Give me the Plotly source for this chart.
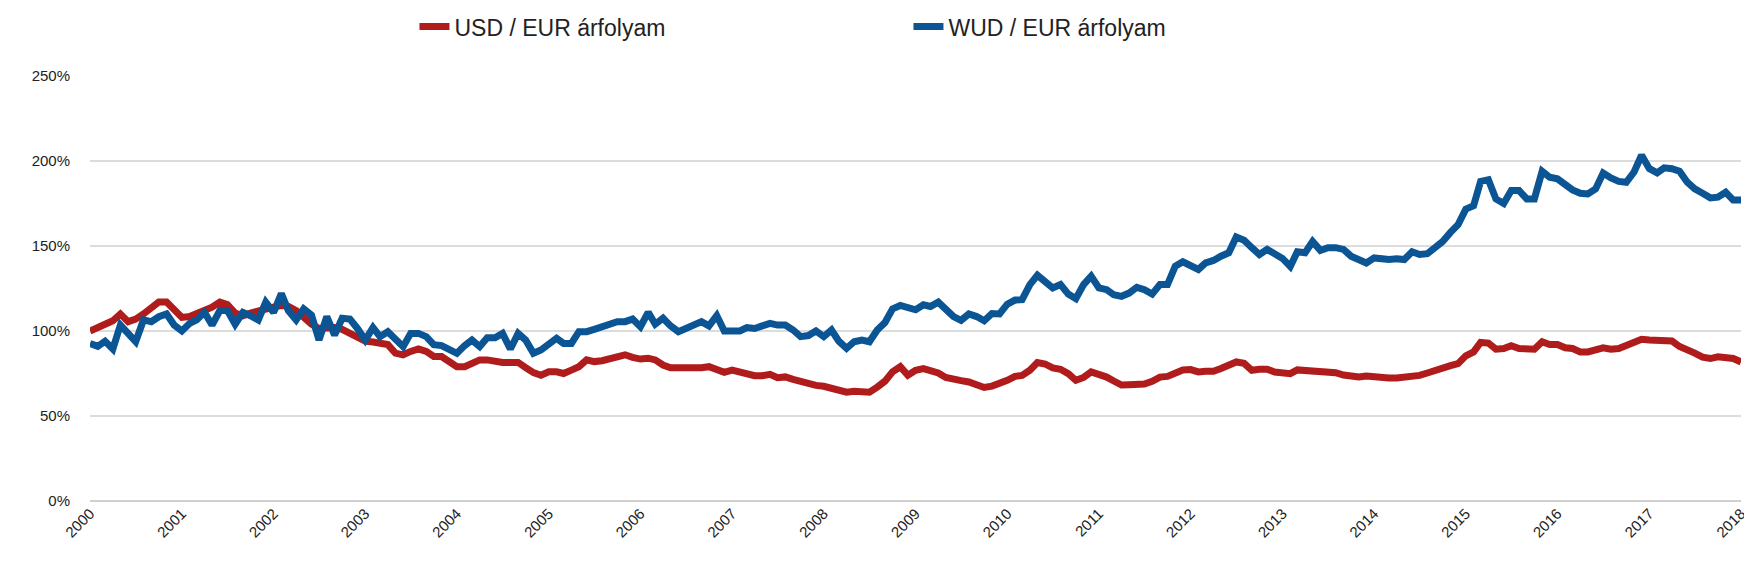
import pandas as pd
import plotly.graph_objects as go

start_month = "2000-01-01"
n_months = 217

usd_eur = [
    100, 102.5, 104, 106, 110, 105.5, 107, 110, 114, 117, 117, 112,
    108, 108.5, 110, 112, 114, 117, 115.5, 110.5, 109, 110.5, 112, 113,
    114, 115, 114.5, 112, 108, 104, 101.5, 102, 102, 101, 99, 97,
    94, 93.5, 93, 92, 87, 86, 88, 89.5, 88, 85, 85, 81.5,
    79, 79, 81, 83, 83, 82, 81.5, 81.5, 81.5, 78.5, 75.5, 74,
    76, 76, 75, 77, 79, 83, 82, 82.5, 83.5, 85, 86, 84.5,
    83.5, 84, 83, 80, 78.4, 78.4, 78.4, 77.6, 78.4, 79, 77.5, 75.7,
    77, 76, 74.5, 73.7, 73.7, 74.5, 72.5, 73, 71.5, 70, 68.5, 68,
    67.5, 66, 64.5, 64, 64.5, 64.5, 64, 67, 70.5, 76, 79, 74,
    76.9, 77.9, 76.7, 75.3, 72.7, 71.3, 70.8, 70, 68.6, 66.8, 67.6, 69,
    71, 73.3, 73.9, 76.9, 81.4, 80.6, 78.3, 77.5, 74.9, 71, 72.7, 75.9,
    74.7, 72.9, 70.6, 68.2, 68.4, 68.4, 68.8, 70.4, 72.9, 73.3, 75.3, 77.1,
    77.3, 75.9, 76.3, 76.3, 77.9, 80.2, 81.8, 81, 76.9, 77.5, 77.5, 75.9,
    74.9, 74.9, 77.1, 76.9, 76.9, 75.9, 75.5, 75.5, 74.1, 73.5, 72.9, 73.5,
    72.9, 73.3, 72.3, 72.3, 72.7, 73.5, 73.9, 75.3, 77.1, 78.5, 79.6, 80.8,
    85.4, 87.7, 93.3, 92.9, 89.3, 89.7, 91.3, 89.7, 89.3, 89.3, 93.7, 92.1,
    92.1, 90.1, 89.7, 87.7, 87.7, 88.5, 90.1, 89.3, 89.7, 91.5, 93.1, 95.1,
    94.7, 94.5, 94.5, 94.1, 90.9, 89.3, 87, 84.6, 83.8, 84.8, 84.8, 83.8,
    81.8,
]

wud_eur = [
    92.7, 91, 94, 89.4, 103.5, 98.6, 93.7, 106.5, 105.5, 108.4, 110, 103.5,
    100, 104.5, 106.5, 111, 103.5, 112, 112, 104, 111, 109, 106.5, 117,
    111, 122, 112, 106.5, 113, 109.4, 94.7, 108.4, 97.6, 107.5, 107, 101.5,
    94.7, 102, 96.7, 99.6, 95.7, 90.8, 98.6, 98.6, 96.7, 92, 91.4, 89.4,
    86.9, 91.4, 94.7, 90.8, 96, 96, 98.6, 89.4, 98.6, 94.7, 86.9, 88.8,
    92.7, 95.7, 92.7, 92.7, 99.6, 99.6, 101, 102.5, 104.5, 105.5, 105.5, 107,
    102.5, 111, 104, 107.5, 103, 99.6, 101.5, 103.5, 105.5, 103, 109, 100,
    99.6, 100, 102, 101.5, 103, 104.5, 103.5, 103.5, 100.6, 96.7, 97.3, 100,
    96.7, 100.6, 94, 89.8, 93.7, 94.7, 93.7, 100.6, 105, 113, 115, 113.7,
    112.5, 115.4, 114.4, 117, 113.4, 108.5, 106.3, 110, 108.5, 106, 110.3, 110,
    115.8, 118.2, 118.4, 127.3, 132.8, 129.2, 125.3, 127.3, 121.7, 119, 127.3, 132.2,
    125.3, 124.3, 121.3, 120.4, 122.3, 125.7, 124.3, 121.7, 127.3, 127.3, 138.1, 140.7,
    138.1, 136.2, 140.1, 141.5, 144, 146, 155.3, 153.4, 149, 145, 148, 145,
    142.7, 138, 146.6, 146, 152.6, 147.4, 149, 149, 148, 144, 142, 140,
    143, 142, 142, 142.5, 142, 146.6, 145, 145.5, 149, 152.6, 158, 162.5,
    171.7, 173.7, 188, 189, 177.7, 175, 182.6, 182.6, 177.7, 177.7, 194, 190.5,
    189.5, 185.6, 183, 181, 180.6, 183.6, 192.9, 190, 188, 187.5, 193.5, 203.4,
    195.5, 193, 196, 195.5, 194, 187.5, 183.6, 181, 178.3, 178.7, 181.6, 177,
    177,
]

series_names = ["USD / EUR árfolyam", "WUD / EUR árfolyam"]
series_colors = ["#B01C1C", "#0B5595"]
y_ticks = [0, 50, 100, 150, 200, 250]
y_tick_labels = ["0%", "50%", "100%", "150%", "200%", "250%"]

dates = pd.date_range(start_month, periods=n_months, freq="MS")

fig = go.Figure()
for name, vals, col in zip(series_names, [usd_eur, wud_eur], series_colors):
    fig.add_trace(go.Scatter(
        x=dates, y=vals, mode="lines", name=name,
        line=dict(color=col, width=7, shape="linear"),
    ))

fig.update_layout(
    width=1752, height=583,
    paper_bgcolor="white", plot_bgcolor="white",
    margin=dict(l=82, r=12, t=68, b=90),
    font=dict(family="Liberation Sans, Arial, sans-serif", color="#222"),
    showlegend=True,
    legend=dict(
        orientation="h",
        xref="container", yref="container",
        x=0.232, y=0.968, xanchor="left", yanchor="middle",
        font=dict(size=23, color="#222"),
        entrywidth=449, entrywidthmode="pixels",
        itemwidth=30,
        bgcolor="rgba(0,0,0,0)",
    ),
    xaxis=dict(
        type="date",
        range=[dates[0], dates[-1]],
        dtick="M12", tick0="2000-01-01", tickformat="%Y",
        tickangle=-45,
        tickfont=dict(size=15, color="#222"),
        showgrid=False, zeroline=False,
        showline=False,
        ticks="",
    ),
    yaxis=dict(
        range=[0, 250],
        tickvals=y_ticks,
        ticktext=y_tick_labels,
        tickfont=dict(size=15, color="#222"),
        showgrid=True, gridcolor="#DCDCDC", gridwidth=1.5,
        zeroline=True, zerolinecolor="#D0D0D0", zerolinewidth=1.5,
        ticks="",
        ticklabelstandoff=19,
    ),
)

fig.write_html("out.html")
